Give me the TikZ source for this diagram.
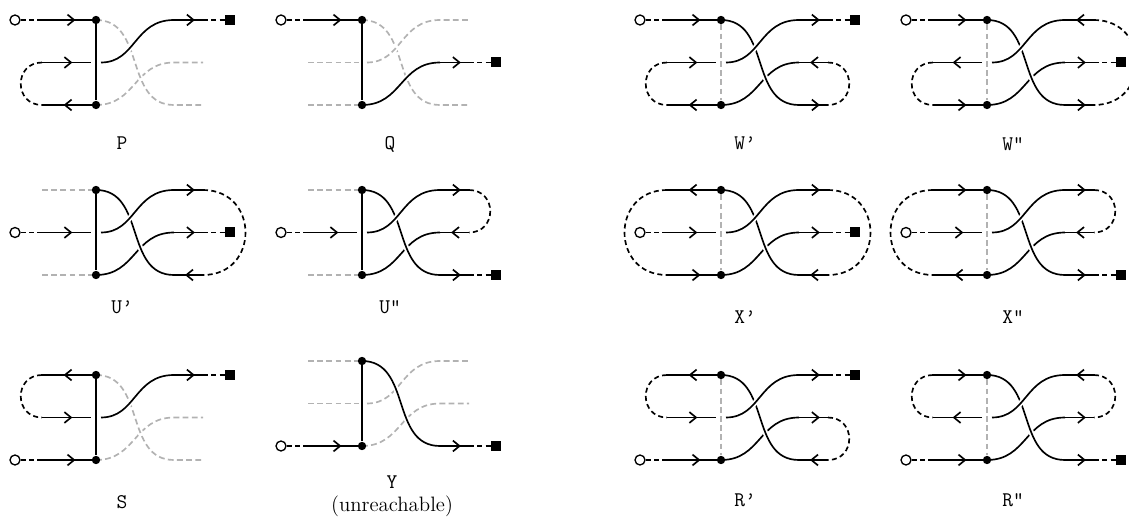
\documentclass[tikz,border=0pt]{standalone}
\usepackage{tikz}
\usetikzlibrary{arrows.meta, decorations.markings}

% the three strands of one panel (local units, rows 42.5 apart)
\newcommand{\strandA}{(0,0) .. controls (50,0) and (28,85) .. (78,85)}
\newcommand{\strandB}{(5,42.5) .. controls (40,42.5) and (38,0) .. (78,0)}
\newcommand{\strandC}{(0,85) .. controls (40,85) and (38,42.5) .. (78,42.5)}
% left and right ends of a row, arrow right (1) or left (-1)
\newcommand{\lpiece}[2]{%
	\pgfmathsetmacro{\pieceend}{#1==1 ? -5 : 0}%
	\ifnum#2>0 \draw[strand, flow] (-54,42.5*#1) -- (\pieceend,42.5*#1);
	\else \draw[strand, flow=0.6] (\pieceend,42.5*#1) -- (-54,42.5*#1);\fi}
\newcommand{\rpiece}[2]{%
	\ifnum#2>0 \draw[strand, flow=0.72] (78,42.5*#1) -- (107,42.5*#1);
	\else \draw[strand, flow=0.62] (107,42.5*#1) -- (78,42.5*#1);\fi}
\newcommand{\lstub}[1]{\draw[ghost] (-54,42.5*#1) -- (-3,42.5*#1);}
% dashed returns between two rows
\newcommand{\lbend}[2]{\draw[lead] (-54,42.5*#1) .. controls (-54-28.33*#2+28.33*#1,42.5*#1) and (-54-28.33*#2+28.33*#1,42.5*#2) .. (-54,42.5*#2);}
\newcommand{\rbend}[2]{\draw[lead] (107,42.5*#1) .. controls (107+28.33*#2-28.33*#1,42.5*#1) and (107+28.33*#2-28.33*#1,42.5*#2) .. (107,42.5*#2);}
\newcommand{\source}[2]{\node[src] (#1) at (-81,42.5*#2) {}; \draw[lead] (#1) -- (-54,42.5*#2);}
\newcommand{\sink}[2]{\node[snk] (#1) at (134,42.5*#2) {}; \draw[lead] (107,42.5*#2) -- (#1);}
\newcommand{\knots}[2]{\node[knot] (#1-t) at (0,0) {}; \node[knot] (#1-b) at (0,85) {}; \draw[#2] (#1-t) -- (#1-b);}

\begin{document}
\begin{tikzpicture}[x=0.6pt, y=-0.6pt,
	strand/.style={line width=1pt},
	over/.style={preaction={draw=white, line width=3.2pt, solid}},
	ghost/.style={gray!60, line width=1pt, dash pattern=on 3.5pt off 2pt},
	lead/.style={line width=1pt, dash pattern=on 3pt off 2pt},
	flow/.style={postaction={decorate}, decoration={markings,
		mark=at position #1 with {\arrow{Straight Barb[length=4pt, width=6.5pt]}}}},
	flow/.default=0.62,
	src/.style={circle, draw, fill=white, line width=0.8pt, inner sep=0pt, minimum size=6pt},
	snk/.style={rectangle, fill, inner sep=0pt, minimum size=6pt},
	knot/.style={circle, fill, inner sep=0pt, minimum size=5pt},
	caption/.style={font=\fontsize{12.5}{14}\selectfont\ttfamily}]
	\useasboundingbox (0,0) rectangle (1129,527);

	% P
	\begin{scope}[shift={(96,20)}]
		\source{P-in}{0}
		\lpiece{0}{1} \lpiece{1}{1} \lpiece{2}{-1}
		\lbend{1}{2}
		\draw[ghost] \strandC -- (107,42.5);
		\draw[ghost, over] \strandA -- (107,85);
		\draw[strand, over] \strandB;
		\rpiece{0}{1}
		\sink{P-out}{0}
		\knots{P}{strand}
		\node[caption] (P-cap) at (26,123) {P};
	\end{scope}
	% Q
	\begin{scope}[shift={(362,20)}]
		\source{Q-in}{0}
		\lpiece{0}{1} \lstub{1} \lstub{2}
		\draw[ghost] \strandA -- (107,85);
		\draw[ghost, over] \strandB -- (107,0);
		\draw[strand, over] \strandC;
		\rpiece{1}{1}
		\sink{Q-out}{1}
		\knots{Q}{strand}
		\node[caption] (Q-cap) at (28,124) {Q};
	\end{scope}
	% W'
	\begin{scope}[shift={(721,20)}]
		\source{W1-in}{0}
		\lpiece{0}{1} \lpiece{1}{1} \lpiece{2}{-1}
		\lbend{1}{2}
		\draw[strand] \strandC;
		\draw[strand, over] \strandA;
		\draw[strand, over] \strandB;
		\rpiece{0}{1} \rpiece{1}{-1} \rpiece{2}{1}
		\rbend{1}{2}
		\sink{W1-out}{0}
		\knots{W1}{ghost}
		\node[caption] (W1-cap) at (24,123) {W’};
	\end{scope}
	% W''
	\begin{scope}[shift={(987,20)}]
		\source{W2-in}{0}
		\lpiece{0}{1} \lpiece{1}{-1} \lpiece{2}{1}
		\lbend{1}{2}
		\draw[strand] \strandC;
		\draw[strand, over] \strandA;
		\draw[strand, over] \strandB;
		\rpiece{0}{-1} \rpiece{1}{1} \rpiece{2}{1}
		\rbend{0}{2}
		\sink{W2-out}{1}
		\knots{W2}{ghost}
		\node[caption] (W2-cap) at (26,124) {W”};
	\end{scope}

	% U'
	\begin{scope}[shift={(96,190)}]
		\source{U1-in}{1}
		\lstub{0} \lpiece{1}{1} \lstub{2}
		\draw[strand] \strandC;
		\draw[strand, over] \strandA;
		\draw[strand, over] \strandB;
		\rpiece{0}{1} \rpiece{1}{1} \rpiece{2}{-1}
		\rbend{0}{2}
		\sink{U1-out}{1}
		\knots{U1}{strand}
		\node[caption] (U1-cap) at (26,117) {U’};
	\end{scope}
	% U''
	\begin{scope}[shift={(362,190)}]
		\source{U2-in}{1}
		\lstub{0} \lpiece{1}{1} \lstub{2}
		\draw[strand] \strandC;
		\draw[strand, over] \strandA;
		\draw[strand, over] \strandB;
		\rpiece{0}{1} \rpiece{1}{-1} \rpiece{2}{1}
		\rbend{0}{1}
		\sink{U2-out}{2}
		\knots{U2}{strand}
		\node[caption] (U2-cap) at (28,117) {U”};
	\end{scope}
	% X'
	\begin{scope}[shift={(721,190)}]
		\source{X1-in}{1}
		\lpiece{0}{-1} \lpiece{1}{1} \lpiece{2}{1}
		\lbend{0}{2}
		\draw[strand] \strandC;
		\draw[strand, over] \strandA;
		\draw[strand, over] \strandB;
		\rpiece{0}{1} \rpiece{1}{1} \rpiece{2}{-1}
		\rbend{0}{2}
		\sink{X1-out}{1}
		\knots{X1}{ghost}
		\node[caption] (X1-cap) at (24,127) {X’};
	\end{scope}
	% X''
	\begin{scope}[shift={(987,190)}]
		\source{X2-in}{1}
		\lpiece{0}{1} \lpiece{1}{1} \lpiece{2}{-1}
		\lbend{0}{2}
		\draw[strand] \strandC;
		\draw[strand, over] \strandA;
		\draw[strand, over] \strandB;
		\rpiece{0}{1} \rpiece{1}{-1} \rpiece{2}{1}
		\rbend{0}{1}
		\sink{X2-out}{2}
		\knots{X2}{ghost}
		\node[caption] (X2-cap) at (26,127) {X”};
	\end{scope}

	% S
	\begin{scope}[shift={(96,375)}]
		\source{S-in}{2}
		\lpiece{0}{-1} \lpiece{1}{1} \lpiece{2}{1}
		\lbend{0}{1}
		\draw[ghost] \strandC -- (107,42.5);
		\draw[ghost, over] \strandA -- (107,85);
		\draw[strand, over] \strandB;
		\rpiece{0}{1}
		\sink{S-out}{0}
		\knots{S}{strand}
		\node[caption] (S-cap) at (26,127) {S};
	\end{scope}
	% Y
	\begin{scope}[shift={(362,361)}]
		\source{Y-in}{2}
		\lstub{0} \lstub{1} \lpiece{2}{1}
		\draw[ghost] \strandC -- (107,42.5);
		\draw[ghost] \strandB -- (107,0);
		\draw[strand, over] \strandA;
		\rpiece{2}{1}
		\sink{Y-out}{2}
		\knots{Y}{strand}
		\node[caption, align=center] (Y-cap) at (30,135) {Y\\\rmfamily (unreachable)};
	\end{scope}
	% R'
	\begin{scope}[shift={(721,375)}]
		\source{R1-in}{2}
		\lpiece{0}{-1} \lpiece{1}{1} \lpiece{2}{1}
		\lbend{0}{1}
		\draw[strand] \strandC;
		\draw[strand, over] \strandA;
		\draw[strand, over] \strandB;
		\rpiece{0}{1} \rpiece{1}{1} \rpiece{2}{-1}
		\rbend{1}{2}
		\sink{R1-out}{0}
		\knots{R1}{ghost}
		\node[caption] (R1-cap) at (24,125) {R’};
	\end{scope}
	% R''
	\begin{scope}[shift={(987,375)}]
		\source{R2-in}{2}
		\lpiece{0}{1} \lpiece{1}{-1} \lpiece{2}{1}
		\lbend{0}{1}
		\draw[strand] \strandC;
		\draw[strand, over] \strandA;
		\draw[strand, over] \strandB;
		\rpiece{0}{-1} \rpiece{1}{1} \rpiece{2}{1}
		\rbend{0}{1}
		\sink{R2-out}{2}
		\knots{R2}{ghost}
		\node[caption] (R2-cap) at (26,125) {R”};
	\end{scope}
\end{tikzpicture}
\end{document}
